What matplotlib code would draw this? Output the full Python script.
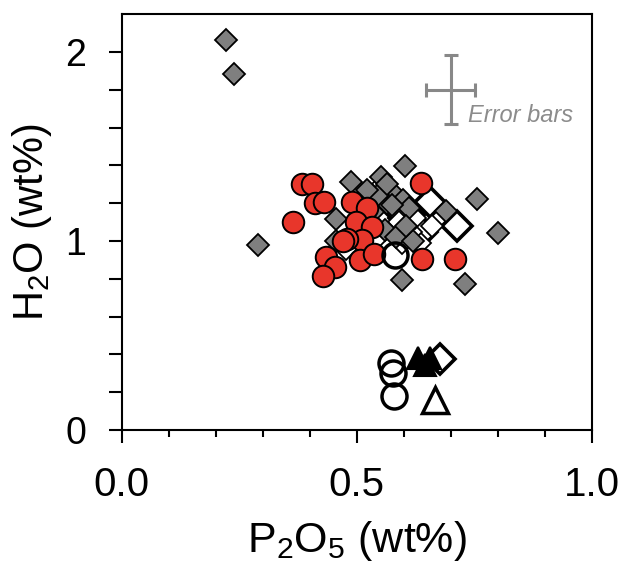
import matplotlib
matplotlib.use("Agg")
import matplotlib.pyplot as plt

plt.rcParams["font.family"] = ["Liberation Sans", "DejaVu Sans"]
plt.rcParams["mathtext.default"] = "regular"

# -------------------- data (wt%) --------------------
# grey diamonds
grey_p2o5 = [0.223, 0.238, 0.291, 0.456, 0.456, 0.488, 0.551, 0.603, 0.576, 0.546,
             0.521, 0.599, 0.612, 0.691, 0.755, 0.800, 0.560, 0.583, 0.597, 0.730,
             0.535, 0.620, 0.575, 0.565, 0.605]
grey_h2o = [2.065, 1.882, 0.980, 1.117, 1.002, 1.312, 1.340, 1.398, 1.262, 1.245,
            1.272, 1.218, 1.175, 1.158, 1.222, 1.042, 1.056, 1.022, 0.795, 0.773,
            1.156, 1.000, 1.190, 1.300, 1.080]

# small open diamonds
wdia_p2o5 = [0.477, 0.523, 0.660, 0.596, 0.635, 0.565, 0.590, 0.615, 0.545, 0.625, 0.555]
wdia_h2o = [0.960, 1.250, 1.080, 0.990, 0.990, 1.200, 1.100, 1.050, 1.020, 1.120, 1.300]

# red circles
red_p2o5 = [0.383, 0.406, 0.411, 0.430, 0.365, 0.491, 0.521, 0.499, 0.532, 0.511,
            0.479, 0.435, 0.454, 0.429, 0.507, 0.537, 0.636, 0.638, 0.709, 0.470]
red_h2o = [1.301, 1.301, 1.200, 1.204, 1.103, 1.204, 1.174, 1.103, 1.073, 1.006,
           1.010, 0.915, 0.865, 0.815, 0.900, 0.932, 1.306, 0.904, 0.904, 1.000]

# open diamonds with heavy outline
bdia_p2o5 = [0.656, 0.713, 0.600, 0.612, 0.585, 0.640, 0.677]
bdia_h2o = [1.209, 1.077, 1.121, 1.140, 1.170, 1.050, 0.374]

# open circles
ocirc_p2o5 = [0.581, 0.574, 0.578, 0.580]
ocirc_h2o = [0.927, 0.352, 0.300, 0.180]

# filled triangles
tri_p2o5 = [0.631, 0.656, 0.645]
tri_h2o = [0.380, 0.380, 0.345]

# open triangle
otri_p2o5 = [0.667]
otri_h2o = [0.159]

# typical analytical uncertainty
err_x, err_y = 0.70, 1.80
err_dx, err_dy = 0.052, 0.183

# -------------------- plot --------------------
fig = plt.figure(figsize=(6.24, 5.67), dpi=100)
ax = fig.add_axes([0.195, 0.2416, 0.7532, 0.7332])

ax.plot(bdia_p2o5, bdia_h2o, "D", ms=15.5, mfc="white", mec="black", mew=2.6, ls="none")
ax.plot(wdia_p2o5, wdia_h2o, "D", ms=11.5, mfc="white", mec="black", mew=1.3, ls="none")
ax.plot(grey_p2o5, grey_h2o, "D", ms=11.5, mfc="#7f7f7f", mec="black", mew=1.3, ls="none")
ax.plot(red_p2o5, red_h2o, "o", ms=15.5, mfc="#e8362b", mec="black", mew=1.4, ls="none")
ax.plot(ocirc_p2o5, ocirc_h2o, "o", ms=18, mfc="none", mec="black", mew=2.5, ls="none")
ax.plot(tri_p2o5, tri_h2o, "^", ms=16, mfc="black", mec="black", mew=1.5, ls="none")
ax.plot(otri_p2o5, otri_h2o, "^", ms=19, mfc="white", mec="black", mew=2.5, ls="none")

ax.errorbar(err_x, err_y, xerr=err_dx, yerr=err_dy, fmt="none", ecolor="#888888",
            elinewidth=2.2, capsize=5, capthick=2.2)
ax.text(0.737, 1.632, "Error bars", fontsize=17, style="italic", color="#8c8c8c")

ax.set_xlim(0, 1.0)
ax.set_ylim(0, 2.2)
ax.set_xticks([0.0, 0.5, 1.0])
ax.set_xticks([0.1, 0.2, 0.3, 0.4, 0.6, 0.7, 0.8, 0.9], minor=True)
ax.set_xticklabels(["0.0", "0.5", "1.0"])
ax.set_yticks([0, 1, 2])
ax.set_yticks([0.2, 0.4, 0.6, 0.8, 1.2, 1.4, 1.6, 1.8], minor=True)

for s in ax.spines.values():
    s.set_linewidth(1.5)
ax.tick_params(axis="x", which="major", length=9, width=1.5, pad=17, labelsize=29)
ax.tick_params(axis="x", which="minor", length=5, width=1.5)
ax.tick_params(axis="y", which="both", length=9.5, width=1.5)
ax.tick_params(axis="y", which="major", pad=16, labelsize=27)

ax.set_xlabel("P$_2$O$_5$ (wt%)", fontsize=31, labelpad=11)
ax.set_ylabel("H$_2$O (wt%)", fontsize=30, labelpad=8)

fig.savefig("out.png", dpi=100)
